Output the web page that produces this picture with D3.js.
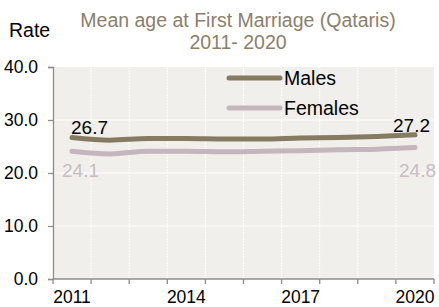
<!DOCTYPE html>
<html>
<head>
<meta charset="utf-8">
<script src="https://cdn.jsdelivr.net/npm/d3@7"></script>
<style>
  body { margin: 0; background: #fff; }
  text { font-family: "Liberation Sans", Arial, sans-serif; }
</style>
</head>
<body>
<svg id="chart" width="439" height="307"></svg>
<script>
var years = [2011, 2012, 2013, 2014, 2015, 2016, 2017, 2018, 2019, 2020];
var males = [26.7, 26.2, 26.5, 26.5, 26.4, 26.4, 26.6, 26.7, 26.9, 27.2];
var females = [24.1, 23.6, 24.1, 24.1, 24.0, 24.1, 24.2, 24.4, 24.5, 24.8];
var yTicks = [0, 10, 20, 30, 40];
var xLabels = [2011, 2014, 2017, 2020];

var svg = d3.select("#chart"),
    MARGINS = { top: 67, right: 5, bottom: 28, left: 53 },
    WIDTH = 439, HEIGHT = 307;

var x = d3.scaleBand().domain(years).range([MARGINS.left, WIDTH - MARGINS.right]);
var y = d3.scaleLinear().domain([0, 40]).range([HEIGHT - MARGINS.bottom, MARGINS.top]);
var fmt = d3.format(".1f");

// plot background
svg.append("rect")
  .attr("x", MARGINS.left).attr("y", y(40))
  .attr("width", WIDTH - MARGINS.right - MARGINS.left)
  .attr("height", y(0) - y(40))
  .attr("fill", "#f0efec");

// horizontal grid
svg.selectAll(".hgrid").data(yTicks.filter(function(d) { return d > 0 && d < 40; }))
  .enter().append("line")
  .attr("x1", MARGINS.left).attr("x2", WIDTH - MARGINS.right)
  .attr("y1", function(d) { return y(d); }).attr("y2", function(d) { return y(d); })
  .attr("stroke", "#fff").attr("stroke-width", 1);

// vertical grid at category boundaries
svg.selectAll(".vgrid").data(years.slice(1))
  .enter().append("line")
  .attr("x1", function(d) { return x(d); }).attr("x2", function(d) { return x(d); })
  .attr("y1", y(40)).attr("y2", y(0))
  .attr("stroke", "#fff").attr("stroke-width", 1).attr("stroke-dasharray", "2,1");

// y axis
var yAxis = svg.append("g")
  .attr("transform", "translate(" + MARGINS.left + ",0)")
  .call(d3.axisLeft(y).tickValues(yTicks).tickFormat(fmt).tickSize(5).tickPadding(10));

// x axis: ticks at band boundaries
var xAxis = svg.append("g")
  .attr("transform", "translate(0," + y(0) + ")");
xAxis.append("line")
  .attr("x1", MARGINS.left).attr("x2", WIDTH - MARGINS.right)
  .attr("stroke", "#8c8c8c").attr("stroke-width", 1.3);
xAxis.selectAll(".xt").data(years.concat([null]))
  .enter().append("line")
  .attr("x1", function(d, i) { return MARGINS.left + i * x.step(); })
  .attr("x2", function(d, i) { return MARGINS.left + i * x.step(); })
  .attr("y1", 0).attr("y2", 5)
  .attr("stroke", "#8c8c8c").attr("stroke-width", 1.3);
xAxis.selectAll(".xl").data(xLabels)
  .enter().append("text")
  .attr("x", function(d) { return x(d) + x.bandwidth() / 2; })
  .attr("y", 24)
  .attr("text-anchor", "middle")
  .attr("font-size", 17.5).attr("fill", "#000")
  .text(function(d) { return d; });

yAxis.select(".domain").attr("stroke", "#8c8c8c").attr("stroke-width", 1.3);
yAxis.selectAll(".tick line").attr("stroke", "#8c8c8c").attr("stroke-width", 1.3);
yAxis.selectAll(".tick text").attr("font-size", 17.5).attr("fill", "#000")
  .attr("font-family", "Liberation Sans, Arial, sans-serif");

// lines
var cx = function(d, i) { return x(years[i]) + x.bandwidth() / 2; };
var line = d3.line().x(cx).y(function(d) { return y(d); }).curve(d3.curveMonotoneX);

var series = [
  { name: "Males", values: males, color: "#857b61" },
  { name: "Females", values: females, color: "#c5b5bd" }
];

series.forEach(function(s) {
  svg.append("path")
    .attr("d", line(s.values))
    .attr("fill", "none")
    .attr("stroke", s.color)
    .attr("stroke-width", 5)
    .attr("stroke-linecap", "round");
});

// end labels
svg.append("text").attr("x", cx(males[0], 0) - 1).attr("y", 134)
  .attr("font-size", 19).attr("fill", "#000").text(fmt(males[0]));
svg.append("text").attr("x", 430).attr("y", 132).attr("text-anchor", "end")
  .attr("font-size", 19).attr("fill", "#000").text(fmt(males[9]));
svg.append("text").attr("x", 62).attr("y", 177)
  .attr("font-size", 19).attr("fill", "#c9bcc3").text(fmt(females[0]));
svg.append("text").attr("x", 436).attr("y", 177).attr("text-anchor", "end")
  .attr("font-size", 19).attr("fill", "#c9bcc3").text(fmt(females[9]));

// legend
var legend = svg.append("g");
series.forEach(function(s, i) {
  var ly = 78 + i * 30;
  legend.append("line")
    .attr("x1", 229).attr("x2", 280).attr("y1", ly).attr("y2", ly)
    .attr("stroke", s.color).attr("stroke-width", 5).attr("stroke-linecap", "round");
  legend.append("text")
    .attr("x", 284).attr("y", ly + 7)
    .attr("font-size", 19.5).attr("fill", "#000").text(s.name);
});

// titles
svg.append("text").attr("x", 238).attr("y", 27).attr("text-anchor", "middle")
  .attr("font-size", 19.5).attr("fill", "#8a806c").text("Mean age at First Marriage (Qataris)");
svg.append("text").attr("x", 238).attr("y", 49).attr("text-anchor", "middle")
  .attr("font-size", 19.5).attr("fill", "#8a806c").text("2011- 2020");
svg.append("text").attr("x", 9).attr("y", 37)
  .attr("font-size", 19.5).attr("fill", "#000").text("Rate");
</script>
</body>
</html>
